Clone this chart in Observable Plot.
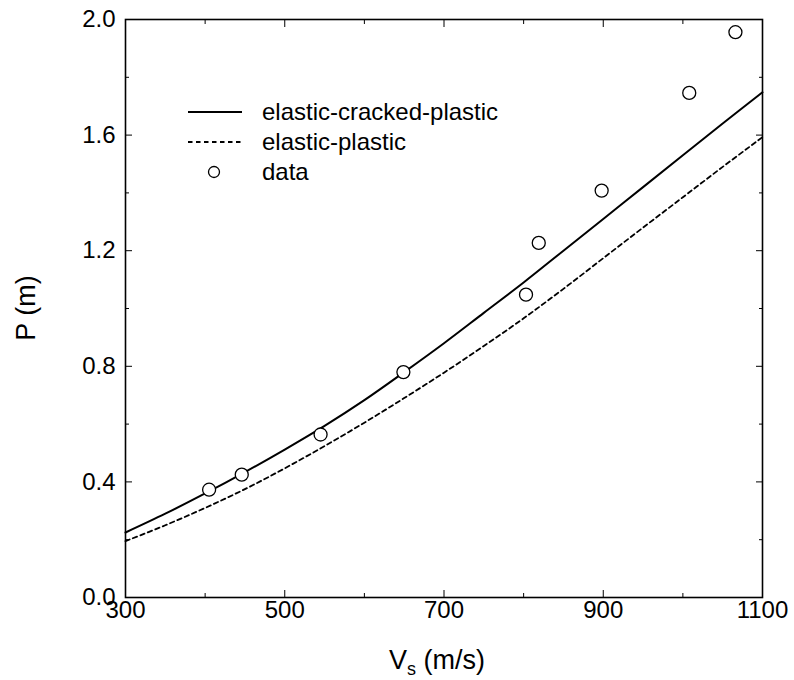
<!DOCTYPE html>
<html><head><meta charset="utf-8">
<script src="https://cdn.jsdelivr.net/npm/d3@7"></script>
<script src="https://cdn.jsdelivr.net/npm/@observablehq/plot@0.6"></script>
<style>
body{margin:0;background:#fff}
#chart svg{font-family:"Liberation Sans",Arial,Helvetica,sans-serif;color:#000;background:#fff}
</style>
</head><body><div id="chart"></div>
<script>
// curves
const vsGrid   = [300,350,400,450,500,550,600,650,700,750,800,850,900,950,1000,1050,1100];
const pCracked = [0.225,0.29,0.36,0.434,0.512,0.594,0.683,0.78,0.88,0.985,1.09,1.20,1.31,1.42,1.53,1.64,1.748];
const pPlastic = [0.195,0.25,0.31,0.375,0.447,0.524,0.605,0.69,0.778,0.87,0.966,1.068,1.174,1.28,1.385,1.49,1.593];
// measured data
const dataVs = [405,446,545,649,803,819,898,1008,1066];
const dataP  = [0.373,0.425,0.564,0.78,1.048,1.227,1.408,1.746,1.956];
// ticks
const xMajor = [300,500,700,900,1100];
const xMinor = [400,600,800,1000];
const yMajor = [0,0.4,0.8,1.2,1.6,2.0];
const yMinor = [0.2,0.6,1.0,1.4,1.8];
// texts
const legendLabels = ["elastic-cracked-plastic","elastic-plastic","data"];
const yTitle = "P (m)";

const cracked = vsGrid.map((v,i)=>({v, p:pCracked[i]}));
const plastic = vsGrid.map((v,i)=>({v, p:pPlastic[i]}));
const points = dataVs.map((v,i)=>({v, p:dataP[i]}));
const blank = () => "";

const chart = Plot.plot({
  width: 794, height: 680,
  marginLeft: 125, marginRight: 32, marginTop: 19, marginBottom: 83,
  x: {domain: [300,1100]},
  y: {domain: [0,2]},
  marks: [
    Plot.line(plastic, {x:"v", y:"p", stroke:"#000", strokeWidth:1.8, strokeDasharray:"4.5,3.5", curve:"catmull-rom"}),
    Plot.line(cracked, {x:"v", y:"p", stroke:"#000", strokeWidth:2, curve:"catmull-rom"}),
    Plot.dot(points, {x:"v", y:"p", r:6.5, stroke:"#000", fill:"#fff", strokeWidth:1.3}),
    Plot.frame({stroke:"#000", strokeWidth:1.6}),
    Plot.axisX(xMajor, {anchor:"bottom", tickSize:-7, tickPadding:10, fontSize:24, tickFormat:d=>String(d), label:null}),
    Plot.axisX(xMinor, {anchor:"bottom", tickSize:-4, tickFormat:blank, label:null}),
    Plot.axisX(xMajor, {anchor:"top", tickSize:-7, tickFormat:blank, label:null}),
    Plot.axisX(xMinor, {anchor:"top", tickSize:-4, tickFormat:blank, label:null}),
    Plot.axisY(yMajor, {anchor:"left", tickSize:-7, tickPadding:17, fontSize:24, tickFormat:d3.format(".1f"), label:null}),
    Plot.axisY(yMinor, {anchor:"left", tickSize:-4, tickFormat:blank, label:null}),
    Plot.axisY(yMajor, {anchor:"right", tickSize:-7, tickFormat:blank, label:null}),
    Plot.axisY(yMinor, {anchor:"right", tickSize:-4, tickFormat:blank, label:null})
  ]
});
document.getElementById("chart").append(chart);

const svg = d3.select(chart);
// axis titles
const xt = svg.append("text").attr("x", 437).attr("y", 669).attr("text-anchor","middle")
  .attr("font-size", 27).attr("fill","#000");
xt.append("tspan").text("V");
xt.append("tspan").attr("font-size", 18).attr("dy", 6).text("s");
xt.append("tspan").attr("dy", -6).text(" (m/s)");
svg.append("text").attr("transform","translate(28,308) rotate(-90)").attr("text-anchor","middle")
  .attr("dominant-baseline","middle").attr("font-size", 27).attr("fill","#000").text(yTitle);

// legend
const lg = svg.append("g").attr("font-size", 24).attr("fill","#000").attr("text-anchor","start");
const rows = [112, 142, 172];
lg.append("line").attr("x1",188).attr("x2",242).attr("y1",rows[0]).attr("y2",rows[0]).attr("stroke","#000").attr("stroke-width",2);
lg.append("line").attr("x1",188).attr("x2",242).attr("y1",rows[1]).attr("y2",rows[1]).attr("stroke","#000").attr("stroke-width",1.8).attr("stroke-dasharray","4.5,3.5");
lg.append("circle").attr("cx",214).attr("cy",rows[2]).attr("r",5.5).attr("fill","#fff").attr("stroke","#000").attr("stroke-width",1.3);
legendLabels.forEach((t,i)=>{
  lg.append("text").attr("x",262).attr("y",rows[i]).attr("dy","0.35em").attr("text-anchor","start").text(t);
});
</script>
</body></html>
